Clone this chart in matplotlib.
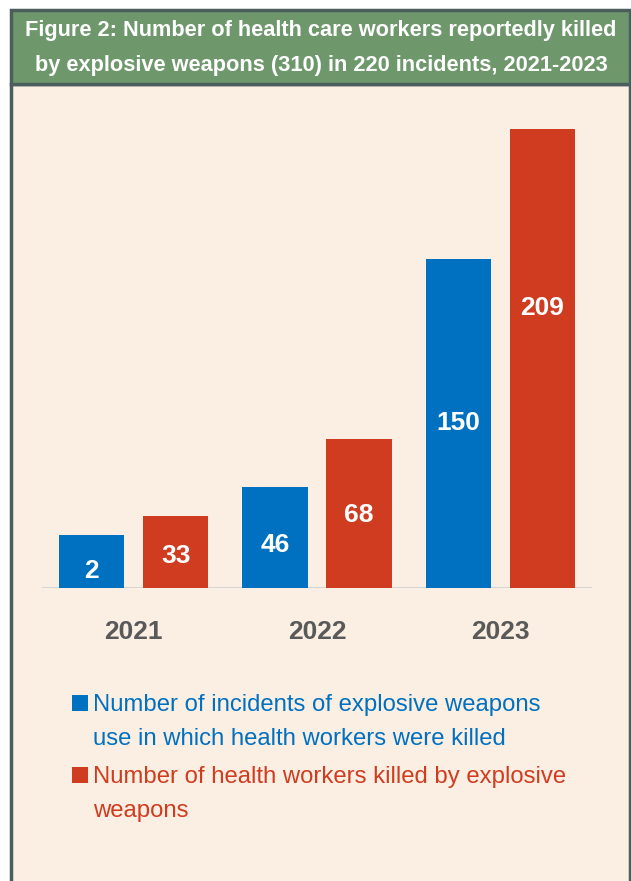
import matplotlib
matplotlib.use("Agg")
import matplotlib.pyplot as plt
from matplotlib.patches import Rectangle

years = ["2021", "2022", "2023"]
incidents = [24, 46, 150]
incident_labels = ["2", "46", "150"]
killed = [33, 68, 209]
killed_labels = ["33", "68", "209"]
series_names = ["Number of incidents of explosive weapons\nuse in which health workers were killed",
                "Number of health workers killed by explosive\nweapons"]
title = "Figure 2: Number of health care workers reportedly killed\nby explosive weapons (310) in 220 incidents, 2021-2023"

W, H = 631, 881
DPI = 100
BLUE = "#0070c0"
RED = "#d03c1f"
BEIGE = "#fbeee2"
GREEN = "#6e986c"
BORDER = "#4b5d5d"
FONT = ["Liberation Sans", "DejaVu Sans"]

fig = plt.figure(figsize=(W / DPI, H / DPI), dpi=DPI)
fig.patch.set_facecolor("white")

def fx(px):
    return px / W

def fy(py):
    return 1 - py / H

# beige panel (bottom edge runs off the picture)
fig.patches.append(Rectangle((fx(11), fy(H + 10)), fx(619), (H + 10 - 84) / H, transform=fig.transFigure,
                             facecolor=BEIGE, edgecolor=BORDER, linewidth=2.5, zorder=-5))
# title box
fig.patches.append(Rectangle((fx(11), fy(84)), fx(619), (84 - 10) / H, transform=fig.transFigure,
                             facecolor=GREEN, edgecolor=BORDER, linewidth=2.5, zorder=-4))
fig.text(fx(321), fy(48), title, ha="center", va="center", color="white",
         fontsize=15.7, fontweight="bold", family=FONT, linespacing=1.85)

# axes
base_px = 588
top_px = 110
ax = fig.add_axes([fx(42), fy(base_px), fx(592 - 42), (base_px - top_px) / H])
ax.set_zorder(2)
ax.set_facecolor("none")
ymax = (base_px - top_px) / ((base_px - 129) / 209)
ax.set_ylim(0, ymax)
ax.set_xlim(-0.5, 2.5)
for s in ax.spines.values():
    s.set_visible(False)
ax.axhline(0, color="#d6d6d6", linewidth=2.2, zorder=1)
ax.set_yticks([])
ax.set_xticks(range(len(years)))
ax.set_xticklabels(years, fontsize=19, fontweight="bold", color="#595959", family=FONT)
ax.tick_params(axis="x", length=0, pad=23)

bw = 0.355
off = 0.229
x = list(range(len(years)))
b1 = ax.bar([i - off for i in x], incidents, width=bw, color=BLUE, zorder=2)
b2 = ax.bar([i + off for i in x], killed, width=bw, color=RED, zorder=2)

# label vertical position as fraction of bar height
frac1 = [0.33, 0.43, 0.5]
frac2 = [0.44, 0.49, 0.61]
for i in x:
    ax.text(i - off, incidents[i] * frac1[i], incident_labels[i], ha="center", va="center",
            color="white", fontsize=19, fontweight="bold", family=FONT, zorder=3)
    ax.text(i + off, killed[i] * frac2[i], killed_labels[i], ha="center", va="center",
            color="white", fontsize=19, fontweight="bold", family=FONT, zorder=3)

# legend
for k, (name, col, ytop) in enumerate([(series_names[0], BLUE, 694), (series_names[1], RED, 766)]):
    fig.patches.append(Rectangle((fx(72), fy(ytop + 17)), fx(16), 16 / H, transform=fig.transFigure,
                                 facecolor=col, edgecolor="none", zorder=2))
    fig.text(fx(93), fy(ytop), name, ha="left", va="top", color=col, fontsize=17.2,
             family=FONT, linespacing=1.72)

fig.savefig("out.png", dpi=DPI, facecolor=fig.get_facecolor())
